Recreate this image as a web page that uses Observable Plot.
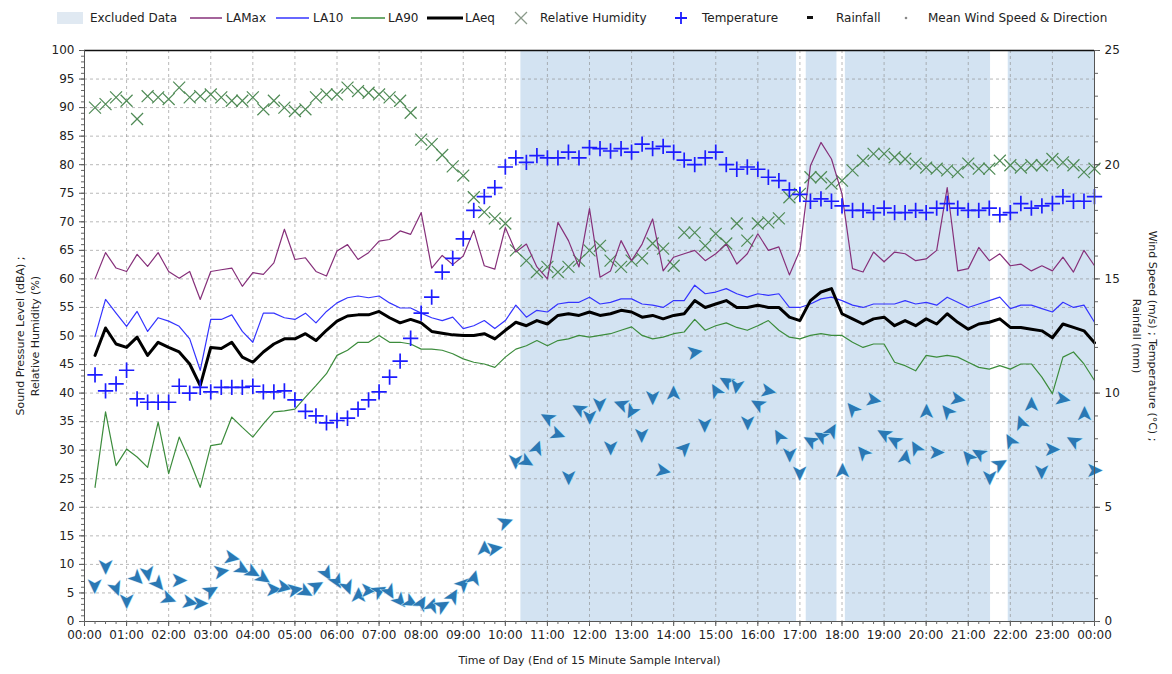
<!DOCTYPE html>
<html><head><meta charset="utf-8">
<script src="https://cdn.jsdelivr.net/npm/d3@7"></script>
<script src="https://cdn.jsdelivr.net/npm/@observablehq/plot@0.6"></script>
<style>
body{margin:0;background:#fff;font-family:"DejaVu Sans",sans-serif;}
#wrap{position:relative;width:1172px;height:674px;overflow:hidden;}
#legend{position:absolute;left:0;top:0;}
#chart{position:absolute;left:0;top:35px;}
</style></head><body>
<div id="wrap"><div id="legend"></div><div id="chart"></div></div>
<script>
// 15-minute samples, time = end of interval (hours of day)
const sampleHours = d3.range(1, 97).map(k => k * 0.25);

const laMax = [60.0,64.6,61.9,61.3,64.3,62.2,64.6,61.3,60.1,61.3,
 56.4,61.3,61.6,61.9,58.7,61.1,60.8,62.8,68.7,63.4,
 63.7,61.3,60.5,64.9,66.0,63.4,64.6,66.6,66.9,68.4,
 67.8,71.6,61.9,64.1,62.5,64.0,68.5,62.3,61.7,69.0,
 64.7,66.1,62.1,60.0,69.9,66.7,62.1,72.3,60.3,61.4,
 66.7,63.2,66.1,70.5,61.4,63.8,64.4,65.0,63.2,64.4,
 66.1,62.6,64.4,67.9,65.0,65.6,60.7,65.0,79.8,83.9,
 81.0,74.9,61.8,61.2,64.7,63.0,64.7,64.4,63.2,63.5,
 65.0,76.0,61.4,61.8,65.5,63.2,64.4,62.3,62.6,61.4,
 62.3,61.4,63.8,61.2,65.0,62.3];

const la10 = [49.9,56.4,54.0,51.7,54.3,50.8,53.2,52.6,51.7,49.5,
 44.0,52.9,52.9,53.7,50.8,48.9,54.0,54.0,53.2,52.9,
 54.0,52.3,54.3,55.8,56.7,57.0,56.7,57.0,55.8,54.9,
 54.9,54.0,53.2,52.7,53.3,51.3,51.8,52.7,51.3,52.7,
 55.4,53.3,54.5,54.2,55.6,55.9,55.9,56.8,55.6,55.9,
 56.5,56.5,55.6,55.4,55.0,56.2,56.2,58.9,57.4,57.7,
 58.3,57.4,56.8,57.4,57.1,57.4,55.0,55.0,55.6,56.5,
 56.8,56.2,55.4,55.0,55.6,55.6,55.6,56.2,55.6,55.9,
 55.4,56.8,55.9,55.0,55.6,56.2,56.8,54.8,55.4,55.4,
 54.8,54.2,55.9,55.0,55.4,52.4];

const la90 = [23.5,36.7,27.3,30.2,28.8,27.0,34.9,25.9,32.3,28.2,
 23.5,30.8,31.1,35.8,34.0,32.3,34.6,36.7,36.9,37.2,
 39.3,41.3,43.4,46.6,47.5,48.9,48.9,50.1,48.9,48.9,
 48.6,47.7,47.7,47.5,46.9,46.0,45.4,45.1,44.5,46.3,
 47.7,48.3,49.2,48.3,49.2,49.5,50.1,49.8,50.1,50.4,
 51.0,51.6,50.1,49.5,49.8,50.4,50.7,52.9,51.0,51.8,
 52.3,51.5,51.0,51.8,52.7,51.0,49.8,49.5,50.1,50.4,
 50.1,50.1,48.9,48.0,48.6,48.6,45.4,44.8,43.9,46.6,
 46.3,46.6,46.3,45.4,44.5,44.2,44.8,44.2,45.1,45.1,
 42.8,39.9,46.3,47.2,45.1,42.2];

const laEq = [46.6,51.4,48.6,48.0,49.8,46.6,48.9,48.0,47.2,45.1,
 41.3,48.0,47.8,48.9,46.3,45.4,47.2,48.6,49.5,49.5,
 50.4,49.2,51.0,52.6,53.5,53.7,53.7,54.3,53.2,52.3,
 52.9,52.3,50.8,50.5,50.2,50.1,50.1,50.4,49.5,51.0,
 52.4,51.8,52.7,52.1,53.6,53.9,53.6,54.2,53.6,53.9,
 54.5,54.2,53.3,53.6,53.0,53.6,53.9,56.2,55.0,55.6,
 56.2,55.0,55.0,55.4,55.0,55.0,53.3,52.7,56.2,57.7,
 58.3,53.9,53.0,52.1,53.0,53.3,51.8,52.7,51.8,53.0,
 52.1,53.9,52.4,51.2,52.1,52.4,53.0,51.5,51.5,51.2,
 50.9,49.7,52.1,51.5,50.9,48.8];

const relHumidity = [90.0,90.6,91.8,91.2,88.0,92.0,91.8,91.5,93.5,91.8,
 92.0,92.3,91.8,91.2,91.2,91.8,89.7,91.2,90.0,89.4,
 89.7,91.8,92.3,92.3,93.5,92.9,92.6,92.3,91.8,91.2,
 89.1,84.4,83.6,81.7,79.7,78.1,74.3,71.7,70.6,69.7,
 65.0,63.2,61.2,62.1,61.2,62.1,63.2,65.0,65.8,63.2,
 62.1,63.2,63.6,66.2,65.3,62.3,68.1,68.1,65.8,67.9,
 66.2,69.7,66.7,69.7,69.9,70.6,74.3,74.9,77.8,77.8,
 76.7,77.2,79.0,80.7,81.9,81.9,81.3,81.0,80.2,79.5,
 79.3,79.0,78.7,80.2,79.3,79.3,80.7,79.9,79.5,79.9,
 79.9,81.0,80.4,79.9,78.7,79.3];

// right axis (°C)
const temperature = [10.8,10.1,10.4,11.0,9.75,9.6,9.6,9.6,10.3,10.0,
 10.25,10.05,10.25,10.25,10.25,10.3,10.05,10.05,10.1,9.7,
 9.2,9.0,8.7,8.8,8.9,9.3,9.7,10.05,10.7,11.4,
 12.4,13.5,14.2,15.3,15.9,16.75,18.0,18.6,19.0,19.9,
 20.3,20.1,20.4,20.3,20.3,20.55,20.3,20.75,20.7,20.6,
 20.7,20.55,20.9,20.7,20.8,20.55,20.2,20.0,20.3,20.55,
 20.0,19.8,19.9,19.8,19.45,19.3,18.9,18.7,18.4,18.5,
 18.4,18.2,18.0,18.0,17.9,18.1,17.9,17.9,18.0,17.9,
 18.1,18.3,18.1,18.0,18.0,18.1,17.8,17.9,18.3,18.1,
 18.2,18.3,18.6,18.4,18.4,18.6];

// right axis (m/s)
const windSpeed = [1.55,2.4,1.45,0.9,1.9,2.1,1.65,1.0,1.8,0.85,
 0.8,1.35,2.2,2.8,2.3,2.15,1.9,1.4,1.5,1.4,
 1.3,1.55,2.1,1.75,1.5,1.15,1.35,1.35,1.3,0.9,
 0.85,0.8,0.7,0.7,1.1,1.65,1.9,3.2,3.2,4.35,
 7.0,7.0,7.6,8.9,8.2,6.3,9.3,8.95,9.5,7.6,
 9.5,9.2,8.15,9.8,6.6,10.0,7.6,11.8,8.6,10.1,
 10.5,10.3,8.7,9.5,10.1,8.1,7.3,6.5,7.9,8.1,
 8.35,6.6,9.3,7.4,9.7,8.2,7.9,7.2,7.6,9.2,
 7.4,9.2,9.75,7.2,7.35,6.3,6.9,7.9,8.7,9.5,
 6.55,7.55,9.75,7.9,9.1,6.6];

// bearing the arrow points to (deg, 0 = up, clockwise)
const windArrowBearing = [180,180,160,180,135,170,140,110,90,100,
 90,60,80,100,120,120,125,90,100,80,
 120,60,150,150,160,0,90,60,150,140,
 120,30,20,60,30,45,15,0,80,70,
 180,120,20,300,110,180,300,180,180,180,
 290,210,180,180,100,0,45,80,180,330,
 300,190,180,300,100,330,180,180,300,300,
 30,0,320,320,100,300,300,10,330,0,
 90,320,100,320,300,180,60,330,340,0,
 180,90,100,300,0,90];

// excluded data periods (hours)
const excludedStart = [10.37, 17.15, 18.08, 21.95];
const excludedEnd   = [16.92, 17.88, 21.53, 24.0];

const hourTicks = d3.range(0, 25);
const leftTicks = d3.range(0, 101, 5);
const rightTickLabels = [0, 5, 10, 15, 20, 25];

const legendItems = ["Excluded Data","LAMax","LA10","LA90","LAeq","Relative Humidity","Temperature","Rainfall","Mean Wind Speed & Direction"];

// ---- build table ----
const rows = sampleHours.map((h, i) => ({
  h, lamax: laMax[i], la10: la10[i], la90: la90[i], laeq: laEq[i],
  rh: relHumidity[i], temp: temperature[i], wind: windSpeed[i], dir: windArrowBearing[i]
}));
const excluded = excludedStart.map((s, i) => ({start: s, end: excludedEnd[i]}));
const R = 100 / 25; // right axis 0–25 shares the 0–100 frame

const C = {lamax: "#86307a", la10: "#3434ff", la90: "#3c8c3c", laeq: "#000", rh: "#4f8a55", temp: "#1c1cff", wind: "#2a78b4", excl: "#d3e3f2"};
const grid = {stroke: "#8a8a8a", strokeOpacity: 0.6, strokeDasharray: "3,3"};
const FONT = "DejaVu Sans";

const chart = Plot.plot({
  width: 1172, height: 639,
  marginTop: 15, marginBottom: 53, marginLeft: 84, marginRight: 78,
  x: {domain: [0, 24], axis: null},
  y: {domain: [0, 100], axis: null},
  style: {fontFamily: FONT, fontSize: "12px", color: "#222", background: "white", overflow: "visible"},
  marks: [
    Plot.rect(excluded, {x1: "start", x2: "end", fill: C.excl}),
    Plot.gridY(leftTicks, grid),
    Plot.gridX(hourTicks, grid),
    Plot.dot(rows, {x: "h", y: "rh", symbol: "times", r: 5.5, stroke: C.rh, strokeWidth: 1.2}),
    Plot.line(rows, {x: "h", y: "la90", stroke: C.la90, strokeWidth: 1.2}),
    Plot.line(rows, {x: "h", y: "lamax", stroke: C.lamax, strokeWidth: 1.2}),
    Plot.line(rows, {x: "h", y: "la10", stroke: C.la10, strokeWidth: 1.2}),
    Plot.line(rows, {x: "h", y: "laeq", stroke: C.laeq, strokeWidth: 3}),
    Plot.dot(rows, {x: "h", y: d => d.temp * R, symbol: "plus", r: 5, stroke: C.temp, strokeWidth: 1.7}),
    Plot.text(rows, {x: "h", y: d => d.wind * R, text: () => "\u27A4", rotate: d => d.dir - 90,
      fill: C.wind, stroke: "#bfe6f7", strokeWidth: 1, paintOrder: "stroke", fontSize: 21, fontFamily: FONT}),
    // frame
    Plot.ruleY([100], {stroke: "#111", strokeWidth: 1.5}),
    Plot.ruleY([0], {stroke: "#555"}),
    Plot.ruleX([0], {stroke: "#555"}),
    Plot.ruleX([24], {stroke: "#555"}),
    // axes
    Plot.axisY(leftTicks, {anchor: "left", tickSize: 5, tickPadding: 5, label: null, stroke: "#555"}),
    Plot.axisY(d3.range(0, 101, 1), {anchor: "left", tickSize: 3, tickFormat: () => "", label: null, stroke: "#666"}),
    Plot.axisY(rightTickLabels.map(v => v * R), {anchor: "right", tickSize: 5, tickPadding: 5, tickFormat: v => v / R, label: null, stroke: "#555"}),
    Plot.axisY(d3.range(0, 26).map(v => v * R), {anchor: "right", tickSize: 3, tickFormat: () => "", label: null, stroke: "#666"}),
    Plot.axisX(hourTicks, {anchor: "bottom", tickSize: 5, tickPadding: 4, label: null, stroke: "#555",
      tickFormat: h => String(h % 24).padStart(2, "0") + ":00"}),
    Plot.axisX(d3.range(0, 96.5).map(q => q / 4), {anchor: "bottom", tickSize: 3, tickFormat: () => "", label: null, stroke: "#666"}),
    // axis titles
    Plot.text(["Sound Pressure Level (dBA) ;\nRelative Humidity (%)"], {frameAnchor: "left", textAnchor: "middle", dx: -58, rotate: -90, fontSize: 11, lineHeight: 1.35, fill: "#222"}),
    Plot.text(["Wind Speed (m/s) ; Temperature (\u00B0C) ;\nRainfall (mm)"], {frameAnchor: "right", textAnchor: "middle", dx: 52, rotate: 90, fontSize: 11, lineHeight: 1.5, fill: "#222"}),
    Plot.text(["Time of Day (End of 15 Minute Sample Interval)"], {frameAnchor: "bottom", dy: 42, fontSize: 11, fill: "#222"})
  ]
});
document.getElementById("chart").appendChild(chart);

// ---- legend ----
const lg = d3.select("#legend").append("svg").attr("width", 1172).attr("height", 35)
  .style("font-family", FONT).style("font-size", "12px");
const ly = 18;
const textX = [90, 226, 313, 388, 465, 540, 702, 836, 928];
lg.append("rect").attr("x", 57).attr("y", ly - 6).attr("width", 26).attr("height", 12).attr("fill", "#e0e9f2");
[[190, 222, C.lamax, 1.5], [276, 309, C.la10, 1.5], [351, 385, C.la90, 1.5], [427, 463, C.laeq, 3]].forEach(([a, b, c, w]) =>
  lg.append("line").attr("x1", a).attr("x2", b).attr("y1", ly).attr("y2", ly).attr("stroke", c).attr("stroke-width", w));
lg.append("path").attr("d", `M${515},${ly-6}L${527},${ly+6}M${527},${ly-6}L${515},${ly+6}`).attr("stroke", "#8a9a8a").attr("stroke-width", 1.3);
lg.append("path").attr("d", `M${675},${ly}L${687},${ly}M${681},${ly-6}L${681},${ly+6}`).attr("stroke", C.temp).attr("stroke-width", 1.8);
lg.append("rect").attr("x", 807).attr("y", ly - 2).attr("width", 6).attr("height", 3).attr("fill", "#111");
lg.append("circle").attr("cx", 906).attr("cy", ly).attr("r", 1.3).attr("fill", "#888");
legendItems.forEach((t, i) => lg.append("text").attr("x", textX[i]).attr("y", ly).attr("dy", "0.35em").attr("fill", "#222").text(t));
</script>
</body></html>
